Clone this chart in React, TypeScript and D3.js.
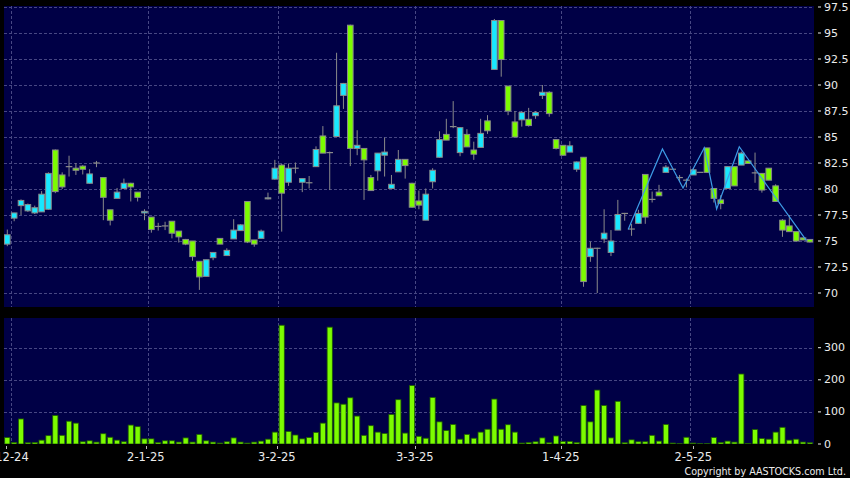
import React from 'react';
import * as d3 from 'd3';

const opens = [
  74.7, 77.2, 78.4, 77.9, 77.7, 77.8, 78.05, 83.75, 81.35, 82.15,
  82.0, 82.2, 80.55, 82.5, 81.1, 78.0, 79.1, 80.05, 80.55, 79.7,
  77.7, 77.3, 76.4, 76.45, 76.9, 75.95, 75.15, 75.0, 73.05, 71.6,
  73.4, 75.25, 73.6, 75.2, 76.0, 78.8, 75.1, 75.25, 79.05, 80.95,
  82.3, 80.65, 82.0, 80.65, 80.6, 82.15, 85.1, 83.5, 85.05, 89.0,
  95.75, 83.9, 83.9, 81.1, 81.75, 83.25, 80.05, 81.65, 82.85, 80.55,
  78.85, 77.0, 80.7, 83.05, 85.25, 86.0, 83.5, 85.25, 83.75, 84.0,
  86.55, 91.5, 96.2, 89.9, 86.45, 86.65, 86.7, 87.05, 89.0, 89.3,
  84.75, 84.2, 83.55, 81.9, 83.05, 73.5, 74.3, 75.2, 73.9, 76.05,
  77.65, 76.15, 76.7, 81.4, 79.0, 79.7, 81.6, 81.9, 81.1, 80.85,
  81.35, 81.6, 83.95, 80.05, 78.95, 80.05, 82.15, 82.3, 82.7, 81.55,
  81.5, 82.0, 80.3, 77.0, 76.45, 75.9, 75.3, 75.15,
];
const highs = [
  76.1, 77.7, 79.0, 78.6, 78.4, 79.8, 81.6, 83.8, 81.6, 83.2,
  82.5, 82.3, 81.9, 82.7, 81.1, 78.0, 80.1, 81.0, 80.6, 79.7,
  78.05, 77.3, 76.75, 76.85, 76.9, 75.95, 75.2, 75.0, 73.05, 73.2,
  73.9, 75.25, 74.3, 77.1, 76.6, 78.8, 75.1, 76.1, 79.65, 82.8,
  82.4, 82.45, 82.55, 81.0, 81.25, 84.1, 86.05, 83.6, 93.1, 90.2,
  95.8, 85.65, 83.9, 81.35, 83.45, 84.95, 81.35, 83.75, 82.85, 80.6,
  79.85, 80.05, 82.0, 85.55, 86.75, 88.45, 85.95, 85.75, 84.55, 86.75,
  87.1, 96.35, 96.2, 89.9, 87.5, 87.5, 87.8, 87.5, 90.0, 89.4,
  84.8, 84.2, 84.6, 82.65, 83.05, 74.95, 74.35, 78.05, 76.05, 78.95,
  77.7, 76.65, 78.0, 81.4, 79.75, 80.4, 82.3, 81.9, 81.35, 81.0,
  82.0, 81.6, 83.95, 80.05, 79.4, 82.15, 82.15, 83.6, 82.7, 83.5,
  81.5, 82.0, 80.45, 77.1, 77.5, 75.9, 75.3, 75.15,
];
const lows = [
  74.5, 76.9, 77.5, 77.8, 77.6, 77.8, 78.0, 79.6, 80.0, 81.2,
  81.35, 81.4, 80.5, 82.1, 77.0, 76.5, 79.1, 80.0, 78.8, 78.8,
  77.0, 75.8, 76.0, 76.05, 75.25, 74.85, 74.6, 73.1, 70.3, 71.6,
  73.15, 74.7, 73.6, 75.2, 76.0, 74.8, 74.45, 75.25, 79.0, 80.9,
  75.9, 80.3, 81.5, 79.7, 80.05, 82.15, 83.45, 79.9, 85.0, 87.7,
  82.2, 83.25, 78.95, 79.85, 80.8, 81.2, 80.0, 81.65, 81.0, 78.2,
  78.05, 77.0, 80.05, 83.0, 84.7, 85.85, 83.15, 84.05, 82.8, 84.0,
  85.3, 91.5, 90.8, 87.1, 85.0, 86.0, 86.0, 86.75, 88.65, 86.95,
  83.8, 83.2, 83.55, 81.65, 70.6, 73.0, 70.0, 74.8, 73.55, 76.05,
  76.95, 75.5, 76.65, 76.65, 78.7, 79.35, 81.6, 81.9, 80.7, 80.15,
  81.35, 81.6, 81.55, 78.7, 78.05, 80.05, 80.3, 82.3, 82.45, 80.6,
  79.65, 80.85, 78.75, 75.4, 75.9, 74.95, 75.1, 74.85,
];
const closes = [
  75.6, 77.7, 78.9, 78.5, 78.2, 79.5, 81.5, 79.75, 80.2, 82.15,
  81.8, 81.9, 81.45, 82.5, 79.2, 77.0, 79.7, 80.55, 80.2, 79.2,
  77.85, 76.1, 76.4, 76.45, 75.75, 75.4, 74.7, 73.5, 71.55, 73.2,
  73.9, 74.7, 74.1, 76.05, 76.55, 74.9, 74.7, 75.95, 79.15, 82.0,
  79.6, 82.0, 82.0, 81.0, 80.6, 83.8, 83.45, 83.5, 88.0, 90.15,
  83.9, 84.2, 82.8, 79.85, 83.45, 83.55, 80.45, 82.85, 82.25, 78.25,
  78.45, 79.5, 81.8, 84.75, 84.7, 86.0, 85.9, 84.05, 83.35, 85.35,
  85.6, 96.2, 92.45, 87.5, 85.0, 87.35, 86.1, 87.35, 89.3, 87.25,
  83.9, 83.25, 84.15, 82.6, 71.1, 74.3, 74.3, 75.75, 75.0, 77.55,
  77.65, 76.15, 77.65, 77.3, 79.0, 79.35, 82.1, 81.9, 81.1, 80.85,
  81.85, 81.6, 81.6, 79.1, 78.6, 82.15, 80.3, 83.45, 82.45, 81.55,
  79.9, 80.85, 78.8, 76.05, 75.9, 75.0, 75.1, 74.9,
];
const volumes = [
  20, 5, 78, 4, 5, 12, 26, 89, 27, 71,
  65, 7, 10, 6, 32, 21, 12, 7, 59, 54,
  16, 16, 5, 10, 10, 6, 19, 6, 30, 10,
  6, 3, 7, 19, 6, 3, 6, 9, 15, 37,
  370, 39, 28, 16, 20, 36, 65, 364, 128, 124,
  144, 87, 27, 57, 37, 33, 92, 138, 34, 182,
  24, 18, 145, 69, 42, 61, 15, 30, 18, 37,
  46, 140, 46, 60, 37, 3, 5, 7, 19, 4,
  25, 8, 8, 5, 120, 69, 168, 120, 19, 133,
  4, 13, 7, 7, 27, 9, 61, 3, 1, 21,
  3, 1, 1, 20, 5, 9, 6, 218, 2, 45,
  17, 15, 37, 52, 12, 15, 6, 4,
];

const priceTicks = [70, 72.5, 75, 77.5, 80, 82.5, 85, 87.5, 90, 92.5, 95, 97.5];
const volumeTicks = [0, 100, 200, 300];
const volumeGrid = [100, 200, 300];
const dateLabels = ['2-12-24', '2-1-25', '3-2-25', '3-3-25', '1-4-25', '2-5-25'];
const dateTickIdx = [-0.15, 20.2, 39.3, 59.4, 80.7, 100];
const dateGridIdx = [0.5, 20.5, 39.5, 59.4, 80.7, 99.5];

const zigzagIdx = [90.5, 95.5, 98.5, 101.6, 103.4, 106.7, 116.5];
const zigzagPrice = [76.1, 83.85, 80.1, 83.97, 78.08, 84.07, 75.03];

const W = 850;
const H = 478;
const PANEL_L = 4;
const PANEL_R = 814;
const PRICE_T = 6;
const PRICE_B = 307;
const VOL_T = 318;
const VOL_B = 444;

const NAVY = '#000046';
const GRID = '#474783';
const CYAN = '#18e8ff';
const GREEN = '#7cfc00';
const EDGE = '#8a8a8a';
const TEXT = '#ececec';
const FONT = 'DejaVu Sans, Verdana, sans-serif';

export default function App() {
  const n = closes.length;
  const x = d3.scaleLinear().domain([0, n - 1]).range([7.3, 7.3 + (n - 1) * 6.86]);
  const y = d3.scaleLinear().domain([70, 97.5]).range([293, 7]);
  const yv = d3.scaleLinear().domain([0, 300]).range([VOL_B, 347.7]);
  const bodyW = 5.6;
  const volW = 5.2;

  const zigzag = d3
    .line<number>()
    .x((_, i) => x(zigzagIdx[i]))
    .y((d) => y(d))(zigzagPrice);

  return (
    <svg
      width={W}
      height={H}
      style={{ position: 'absolute', left: 0, top: 0, background: '#000' }}
    >
      <defs>
        <clipPath id="pclip">
          <rect x={PANEL_L} y={PRICE_T} width={PANEL_R - PANEL_L} height={PRICE_B - PRICE_T} />
        </clipPath>
        <clipPath id="vclip">
          <rect x={PANEL_L} y={VOL_T} width={PANEL_R - PANEL_L} height={VOL_B - VOL_T} />
        </clipPath>
      </defs>
      <rect x={0} y={0} width={W} height={H} fill="#000" />
      <rect x={PANEL_L} y={PRICE_T} width={PANEL_R - PANEL_L} height={PRICE_B - PRICE_T} fill={NAVY} />
      <rect x={PANEL_L} y={VOL_T} width={PANEL_R - PANEL_L} height={VOL_B - VOL_T} fill={NAVY} />

      {/* price grid */}
      <g clipPath="url(#pclip)" stroke={GRID} strokeWidth={1} strokeDasharray="3,2">
        {priceTicks.map((p) => (
          <line key={'pg' + p} x1={PANEL_L} x2={PANEL_R} y1={Math.round(y(p)) + 0.5} y2={Math.round(y(p)) + 0.5} />
        ))}
        {dateGridIdx.map((d) => (
          <line key={'vg' + d} x1={Math.round(x(d)) + 0.5} x2={Math.round(x(d)) + 0.5} y1={PRICE_T} y2={PRICE_B} />
        ))}
      </g>
      {/* volume grid */}
      <g clipPath="url(#vclip)" stroke={GRID} strokeWidth={1} strokeDasharray="3,2">
        {volumeGrid.map((v) => (
          <line key={'vvg' + v} x1={PANEL_L} x2={PANEL_R} y1={Math.round(yv(v)) + 0.5} y2={Math.round(yv(v)) + 0.5} />
        ))}
        {dateGridIdx.map((d) => (
          <line key={'vvx' + d} x1={Math.round(x(d)) + 0.5} x2={Math.round(x(d)) + 0.5} y1={VOL_T} y2={VOL_B} />
        ))}
      </g>

      {/* candles */}
      <g clipPath="url(#pclip)">
        {closes.map((c, i) => {
          const o = opens[i];
          const cx = x(i);
          const top = y(Math.max(o, c));
          const bot = y(Math.min(o, c));
          const up = c > o;
          const doji = Math.abs(c - o) < 0.01;
          return (
            <g key={'c' + i}>
              <line x1={cx} x2={cx} y1={y(highs[i])} y2={y(lows[i])} stroke={EDGE} strokeWidth={1} />
              {doji ? (
                <line x1={cx - bodyW / 2 - 0.5} x2={cx + bodyW / 2 + 0.5} y1={top} y2={top} stroke={EDGE} strokeWidth={1.2} />
              ) : (
                <rect
                  x={cx - bodyW / 2}
                  y={top}
                  width={bodyW}
                  height={Math.max(bot - top, 1)}
                  fill={up ? CYAN : GREEN}
                  stroke={EDGE}
                  strokeWidth={1}
                />
              )}
            </g>
          );
        })}
        <path d={zigzag || ''} fill="none" stroke="#3d9be6" strokeWidth={1.2} />
      </g>

      {/* volume bars */}
      <g clipPath="url(#vclip)">
        {volumes.map((v, i) => (
          <rect
            key={'v' + i}
            x={x(i) - volW / 2}
            y={yv(v)}
            width={volW}
            height={Math.max(VOL_B - yv(v), 0.6)}
            fill={GREEN}
            stroke="#1e5c00"
            strokeWidth={0.8}
          />
        ))}
      </g>

      {/* price axis labels */}
      <g fontFamily={FONT} fontSize={11} fill={TEXT}>
        {priceTicks.map((p) => (
          <g key={'pl' + p}>
            <line x1={818} x2={821} y1={y(p)} y2={y(p)} stroke={TEXT} strokeWidth={1} />
            <text x={824} y={y(p)} dominantBaseline="central">
              {p}
            </text>
          </g>
        ))}
        {volumeTicks.map((v) => (
          <g key={'vl' + v}>
            <line x1={818} x2={821} y1={yv(v)} y2={yv(v)} stroke={TEXT} strokeWidth={1} />
            <text x={824} y={yv(v)} dominantBaseline="central">
              {v}
            </text>
          </g>
        ))}
      </g>

      {/* date axis */}
      <g fontFamily={FONT} fontSize={11.5} fill={TEXT}>
        {dateLabels.map((lab, i) => (
          <g key={'d' + lab}>
            <line
              x1={Math.round(x(dateTickIdx[i])) + 0.5}
              x2={Math.round(x(dateTickIdx[i])) + 0.5}
              y1={446}
              y2={449}
              stroke="#bbbbbb"
              strokeWidth={1}
            />
            <text x={x(dateTickIdx[i])} y={461} textAnchor="middle">
              {lab}
            </text>
          </g>
        ))}
      </g>

      <text
        x={846}
        y={475}
        textAnchor="end"
        fontFamily={FONT}
        fontSize={9.6}
        fill={TEXT}
      >
        Copyright by AASTOCKS.com Ltd.
      </text>
    </svg>
  );
}
